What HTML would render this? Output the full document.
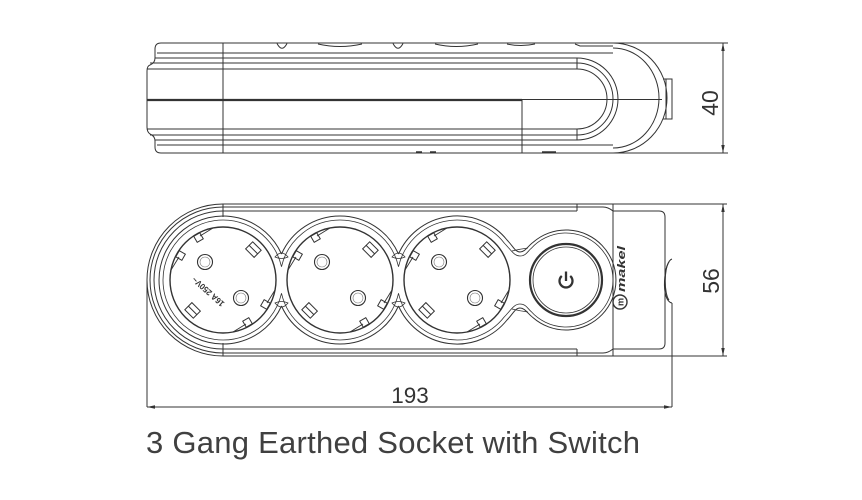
<!DOCTYPE html>
<html><head><meta charset="utf-8">
<style>
html,body{margin:0;padding:0;background:#fff;}
svg{display:block;}
</style></head><body>
<svg width="862" height="500" viewBox="0 0 862 500" xmlns="http://www.w3.org/2000/svg">
<defs>
<g id="sock" fill="none" stroke="#333">
  <circle r="53" stroke-width="1.4"/>
  <circle cx="-18" cy="-18" r="7.5" stroke-width="1.1"/>
  <circle cx="-18" cy="-18" r="5" stroke-width="0.6" stroke="#777"/>
  <circle cx="18" cy="18" r="7.5" stroke-width="1.1"/>
  <circle cx="18" cy="18" r="5" stroke-width="0.6" stroke="#777"/>
  <g transform="rotate(-45) translate(43,0)">
    <rect x="-5" y="-6" width="10" height="12"/>
    <line x1="0" y1="-6" x2="0" y2="6"/>
  </g>
  <g transform="rotate(135) translate(43,0)">
    <rect x="-5" y="-6" width="10" height="12"/>
    <line x1="0" y1="-6" x2="0" y2="6"/>
  </g>
  <g transform="rotate(-120) translate(49,0)"><rect x="-3.5" y="-3.5" width="7" height="7"/></g>
  <g transform="rotate(-150) translate(49,0)"><rect x="-3.5" y="-3.5" width="7" height="7"/></g>
  <g transform="rotate(30) translate(49,0)"><rect x="-3.5" y="-3.5" width="7" height="7"/></g>
  <g transform="rotate(60) translate(49,0)"><rect x="-3.5" y="-3.5" width="7" height="7"/></g>
  <path d="M-23,-44 L-10,-52 M-44,-23 L-52,-10 M23,44 L10,52 M44,23 L52,10" stroke-width="0.9"/>
</g>
</defs>

<g fill="none" stroke="#333" stroke-width="1">
  <!-- ============ TOP (SIDE) VIEW ============ -->
  <path d="M613,43 L161,43 Q155,43 155,49 L155,58 Q155,63 150,65 Q147,66 147,71 L147,127 Q147,132 150,134 Q155,136 155,141 L155,147 Q155,153 161,153 L613,153"/>
  <line x1="223" y1="43" x2="223" y2="153"/>
  <path d="M157,53 L613,53 M157,145 L613,145"/>
  <path d="M155,58 L577,58 A41,41 0 0 1 577,140 L155,140"/>
  <path d="M150,63 L577,63 A36,36 0 0 1 577,135 L150,135"/>
  <path d="M147,69 L577,69 A30,30 0 0 1 577,129 L147,129"/>
  <path d="M577,58 L577,69 M577,129 L577,140"/>
  <line x1="147" y1="100" x2="522" y2="100" stroke-width="2.2"/>
  <line x1="522" y1="99.5" x2="662" y2="99.5"/>
  <line x1="522" y1="100" x2="522" y2="153"/>
  <path d="M613,43 A54,55 0 0 1 613,153"/>
  <path d="M613,48 A46,50 0 0 1 613,148"/>
  <path d="M663,79 L672,79 L672,119 L663,119 M666,79 L666,119"/>
  <!-- top bumps -->
  <path d="M277,43.5 Q282,53 287,43.5 M393,43.5 Q398,53 403,43.5"/>
  <path d="M318,44 Q340,49 362,44 M435,44 Q456,49 478,44 M507,44 Q521,47 535,44 M575,44 L580,46 L613,46"/>
  <path d="M416,152 L422,152 M430,152 L436,152 M542,152 L556,152" stroke-width="1.5"/>
  <!-- dim 40 -->
  <path d="M613,43 L728,43 M613,153 L728,153 M723,43 L723,153"/>
  <polygon points="723,43 721.3,51 724.7,51" fill="#333" stroke="none"/>
  <polygon points="723,153 721.3,145 724.7,145" fill="#333" stroke="none"/>

  <!-- ============ FRONT VIEW ============ -->
  <path d="M223,204 L727,204 M223,356 L727,356"/>
  <path d="M223,204 A76,76 0 0 0 223,356"/>
  <path d="M223,207 A73,73 0 0 0 223,353"/>
  <path d="M223,211 A69,69 0 0 0 223,349"/>
  <path d="M223,207 L577,207 M223,211 L577,211 M223,353 L577,353 M223,349 L577,349"/>
  <path d="M223,204 L223,217 M223,343 L223,356"/>
  <path d="M577,204 L577,211 M577,349 L577,356"/>
  <path d="M577,207 L603,207 Q608,207 613,211 M577,353 L603,353 Q608,353 613,349"/>
  <line x1="613" y1="204" x2="613" y2="356"/>
  <path d="M613,211 L659,211 Q665,211 665,217 L665,343 Q665,349 659,349 L613,349"/>
  <!-- side bump -->
  <path d="M672,259 C664,261 660,301 672,303"/>
  <path d="M669,262 C664,268 664,294 669,300"/>
  <!-- lobes outer r64 -->
  <path d="M281.5,254 A64,64 0 1 0 281.5,306"/>
  <path d="M281.5,254 A64,64 0 0 1 398.5,254 M281.5,306 A64,64 0 0 0 398.5,306"/>
  <path d="M398.5,254 A64,64 0 0 1 507,240 C513,246 515,252 520,252 C525,252 528,246 533,242.4 A50,50 0 1 1 533,317.6 C528,314 525,308 520,308 C515,308 513,314 507,320 A64,64 0 0 1 398.5,306"/>
  <!-- lobes inner r60 -->
  <path d="M281.5,266.7 A60,60 0 1 0 281.5,293.3" stroke-width="0.8"/>
  <path d="M281.5,266.7 A60,60 0 0 1 398.5,266.7 M281.5,293.3 A60,60 0 0 0 398.5,293.3" stroke-width="0.8"/>
  <path d="M398.5,266.7 A60,60 0 0 1 504.3,243.1 C511,250 514,256 520,256 C526,256 528,251 531,248.6 A47,47 0 1 1 531,311.4 C528,309 526,304 520,304 C514,304 511,310 504.3,316.9 A60,60 0 0 1 398.5,293.3" stroke-width="0.8"/>
  <!-- neck lenses -->
  <path d="M275,257 Q281.5,249 288,257 Q281.5,260 275,257 Z M275,303 Q281.5,311 288,303 Q281.5,300 275,303 Z" stroke-width="0.8"/>
  <path d="M392,257 Q398.5,249 405,257 Q398.5,260 392,257 Z M392,303 Q398.5,311 405,303 Q398.5,300 392,303 Z" stroke-width="0.8"/>
  <path d="M512,251 Q520,249 528,248 M512,309 Q520,311 528,312" stroke-width="0.8"/>
</g>

<use href="#sock" x="223" y="280"/>
<use href="#sock" x="340" y="280"/>
<use href="#sock" x="457" y="280"/>

<g fill="none" stroke="#333">
  <!-- switch -->
  <circle cx="566" cy="280" r="36" stroke-width="2.2"/>
  <circle cx="566" cy="280" r="33" stroke-width="0.8"/>
  <path d="M561.8,276 A6.5,6.5 0 1 0 570.2,276" stroke-width="2.3"/>
  <line x1="566" y1="271.5" x2="566" y2="281" stroke-width="2.3"/>
  <!-- makel logo -->
  <circle cx="620" cy="302" r="7" stroke-width="1.4"/>
  <!-- dim 56 -->
  <line x1="723" y1="204" x2="723" y2="356"/>
  <!-- dim 193 -->
  <path d="M147,280 L147,407 M672,303 L672,407 M147,407 L672,407"/>
</g>
<polygon points="723,204 721.3,212 724.7,212" fill="#333"/>
<polygon points="723,356 721.3,348 724.7,348" fill="#333"/>
<polygon points="147,407 155,405.3 155,408.7" fill="#333"/>
<polygon points="672,407 664,405.3 664,408.7" fill="#333"/>

<g font-family="'Liberation Sans', Arial, sans-serif" fill="#333">
  <text transform="translate(623.5,302) rotate(-90)" font-size="9" font-weight="bold" text-anchor="middle">m</text>
  <text transform="translate(625,292) rotate(-90)" font-size="11" font-weight="bold" font-style="italic" textLength="46" lengthAdjust="spacingAndGlyphs">makel</text>
  <text transform="translate(225,303) rotate(-138)" font-size="8.5" font-weight="bold" textLength="40" lengthAdjust="spacingAndGlyphs">16A 250V~</text>
  <text transform="translate(718,103) rotate(-90)" font-size="23" text-anchor="middle">40</text>
  <text transform="translate(719,281) rotate(-90)" font-size="23" text-anchor="middle">56</text>
  <text x="410" y="403" font-size="22.5" text-anchor="middle">193</text>
  <text x="146" y="453" font-size="31" fill="#404040" textLength="494" lengthAdjust="spacing">3 Gang Earthed Socket with Switch</text>
</g>
</svg>
</body></html>
